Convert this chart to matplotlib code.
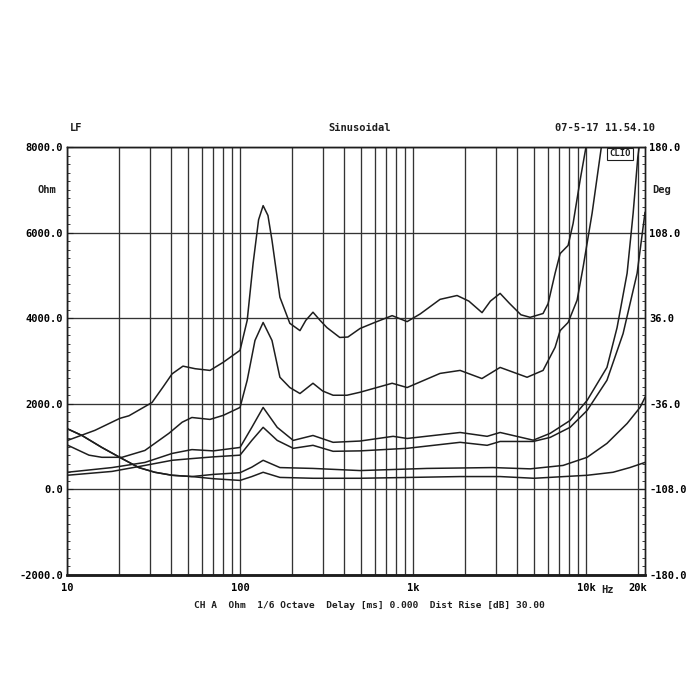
import matplotlib
matplotlib.use("Agg")
import matplotlib.pyplot as plt
from matplotlib.ticker import FixedLocator, MultipleLocator, NullFormatter

# --- curves (Hz, Ohm) ---
freq_a = [10, 14.5, 20.2, 22.8, 31, 36, 40.5, 46.8, 55, 67, 80, 100, 110, 119, 128, 136,
          145, 153, 170, 194, 222, 240, 264, 290, 318, 377, 420, 494, 600, 757, 924,
          1100, 1432, 1796, 2100, 2504, 2800, 3185, 3600, 4200, 4750, 5640, 6030,
          6620, 7080, 7870, 8410, 9230, 10140]
ohm_a = [1140, 1380, 1660, 1720, 2030, 2400, 2700, 2880, 2820, 2780, 2970, 3250, 3950, 5280,
         6300, 6630, 6400, 5820, 4490, 3880, 3710, 3950, 4140, 3950, 3780, 3550, 3560,
         3760, 3900, 4060, 3920, 4100, 4440, 4530, 4400, 4130, 4400, 4580, 4350, 4080,
         4020, 4110, 4340, 5050, 5510, 5700, 6210, 7220, 8150]

freq_b = [10, 13.4, 15.9, 20.8, 28.2, 38.8, 46.3, 52.7, 67, 80, 100, 110, 122, 136, 153,
          170, 194, 222, 264, 300, 345, 415, 494, 757, 924, 1432, 1870, 2500, 3185, 4560,
          5640, 6620, 7080, 7870, 8870, 9610, 10830, 12400]
ohm_b = [1040, 800, 750, 750, 910, 1310, 1570, 1680, 1635, 1730, 1915, 2550, 3480, 3900,
         3480, 2620, 2380, 2240, 2480, 2300, 2200, 2200, 2270, 2480, 2380, 2710, 2780,
         2590, 2850, 2620, 2780, 3320, 3710, 3900, 4420, 5190, 6450, 8150]

freq_c = [10, 18.2, 28.2, 40.5, 52.7, 70, 100, 117, 136, 164, 203, 264, 345, 494, 767,
          924, 1870, 2680, 3185, 4950, 6200, 8080, 10140, 13200, 15100, 17260, 18700,
          19900, 20500]
ohm_c = [400, 510, 630, 840, 930, 900, 980, 1450, 1915, 1450, 1145, 1260, 1100, 1130,
         1240, 1190, 1330, 1240, 1330, 1150, 1310, 1610, 2080, 2850, 3780, 5050, 6450,
         7760, 8150]

freq_d = [10, 18.2, 28.2, 40.5, 52.7, 70, 100, 117, 136, 164, 203, 264, 345, 494, 924,
          1870, 2680, 3185, 4950, 6200, 8080, 10140, 13200, 16360, 19720, 21900]
ohm_d = [330, 420, 560, 680, 720, 760, 800, 1145, 1450, 1145, 960, 1030, 890, 900, 960,
         1100, 1030, 1120, 1120, 1215, 1450, 1845, 2550, 3640, 5050, 6470]

freq_e = [10, 12.2, 15.9, 20.8, 26, 32.2, 40.5, 52.7, 70, 100, 117, 136, 170, 264, 494,
          1200, 2900, 4750, 7360, 10140, 13200, 17260, 20500, 21900]
ohm_e = [1420, 1260, 980, 720, 510, 400, 330, 300, 350, 390, 520, 680, 510, 490, 440,
         490, 510, 480, 560, 750, 1075, 1540, 1915, 2150]

freq_f = [10, 12.2, 15.9, 20.8, 26, 32.2, 40.5, 52.7, 70, 100, 117, 136, 170, 264, 494,
          1870, 3185, 5000, 10140, 14300, 17900, 21900]
ohm_f = [1420, 1260, 980, 720, 510, 400, 330, 300, 250, 210, 300, 400, 280, 260, 260,
         300, 300, 260, 330, 400, 510, 630]

left_ticks = [-2000, 0, 2000, 4000, 6000, 8000]
right_ticks = [-180, -108, -36, 36, 108, 180]
x_ticks = [10, 100, 1000, 10000, 20000]
x_labels = ["10", "100", "1k", "10k", "20k"]

ink = "#1e1e1e"
mono = "DejaVu Sans Mono"

fig = plt.figure(figsize=(7, 7), dpi=100)
ax = fig.add_axes([67 / 700, 125 / 700, 578 / 700, 428 / 700])

for fr, val in [(freq_a, ohm_a), (freq_b, ohm_b), (freq_c, ohm_c),
                (freq_d, ohm_d), (freq_e, ohm_e), (freq_f, ohm_f)]:
    ax.plot(fr, val, color=ink, lw=1.1, clip_on=True)

ax.set_xscale("log")
ax.set_xlim(10, 21900)
ax.set_ylim(-2000, 8000)

# grid: every 1..9 x decade, horizontal at the major ticks
vlines = [m * 10 ** d for d in range(1, 5) for m in range(1, 10) if m * 10 ** d <= 20000]
for v in vlines:
    ax.axvline(v, color="#333333", lw=0.95, zorder=0)
for h in left_ticks:
    ax.axhline(h, color="#333333", lw=0.95, zorder=0)

ax.xaxis.set_major_locator(FixedLocator(x_ticks))
ax.set_xticklabels(x_labels)
ax.xaxis.set_minor_locator(FixedLocator(vlines))
ax.xaxis.set_minor_formatter(NullFormatter())
ax.set_yticks(left_ticks)
ax.set_yticklabels([f"{t:.1f}" for t in left_ticks])
ax.yaxis.set_minor_locator(MultipleLocator(200))
ax.tick_params(which="both", direction="in", color=ink)
ax.tick_params(which="major", length=4, labelsize=7.5, pad=3)
ax.tick_params(which="minor", length=2)
ax.tick_params(axis="x", which="both", length=0, pad=6)
for lab in ax.get_xticklabels() + ax.get_yticklabels():
    lab.set_family(mono)
    lab.set_weight("bold")

ax2 = ax.twinx()
ax2.set_ylim(-180, 180)
ax2.set_yticks(right_ticks)
ax2.set_yticklabels([f"{t:.1f}" for t in right_ticks])
ax2.yaxis.set_minor_locator(MultipleLocator(7.2))
ax2.tick_params(which="both", direction="in", color=ink)
ax2.tick_params(which="major", length=4, labelsize=7.5, pad=3)
ax2.tick_params(which="minor", length=2)
for lab in ax2.get_yticklabels():
    lab.set_family(mono)
    lab.set_weight("bold")

for a in (ax, ax2):
    for s in a.spines.values():
        s.set_color(ink)
        s.set_linewidth(1.0)
    a.spines["bottom"].set_linewidth(1.8)

txt = dict(family=mono, weight="bold", fontsize=7.5, color=ink)
fig.text(70 / 700, 1 - 128 / 700, "LF", ha="left", va="center", **txt)
fig.text(360 / 700, 1 - 128 / 700, "Sinusoidal", ha="center", va="center", **txt)
fig.text(655 / 700, 1 - 128 / 700, "07-5-17 11.54.10", ha="right", va="center", **txt)
fig.text(47 / 700, 1 - 190 / 700, "Ohm", ha="center", va="center", **txt)
fig.text(652 / 700, 1 - 190 / 700, "Deg", ha="left", va="center", **txt)
fig.text(607 / 700, 1 - 590 / 700, "Hz", ha="center", va="center", **txt)
fig.text(369 / 700, 1 - 606 / 700,
         "CH A  Ohm  1/6 Octave  Delay [ms] 0.000  Dist Rise [dB] 30.00",
         ha="center", va="center", family=mono, weight="bold", fontsize=6.8, color=ink)
fig.text(620 / 700, 1 - 154 / 700, "CLIO", ha="center", va="center",
         family=mono, weight="bold", fontsize=6.5, color=ink,
         bbox=dict(boxstyle="square,pad=0.2", fc="white", ec=ink, lw=0.8))

fig.savefig("out.png", dpi=100, facecolor="white")
